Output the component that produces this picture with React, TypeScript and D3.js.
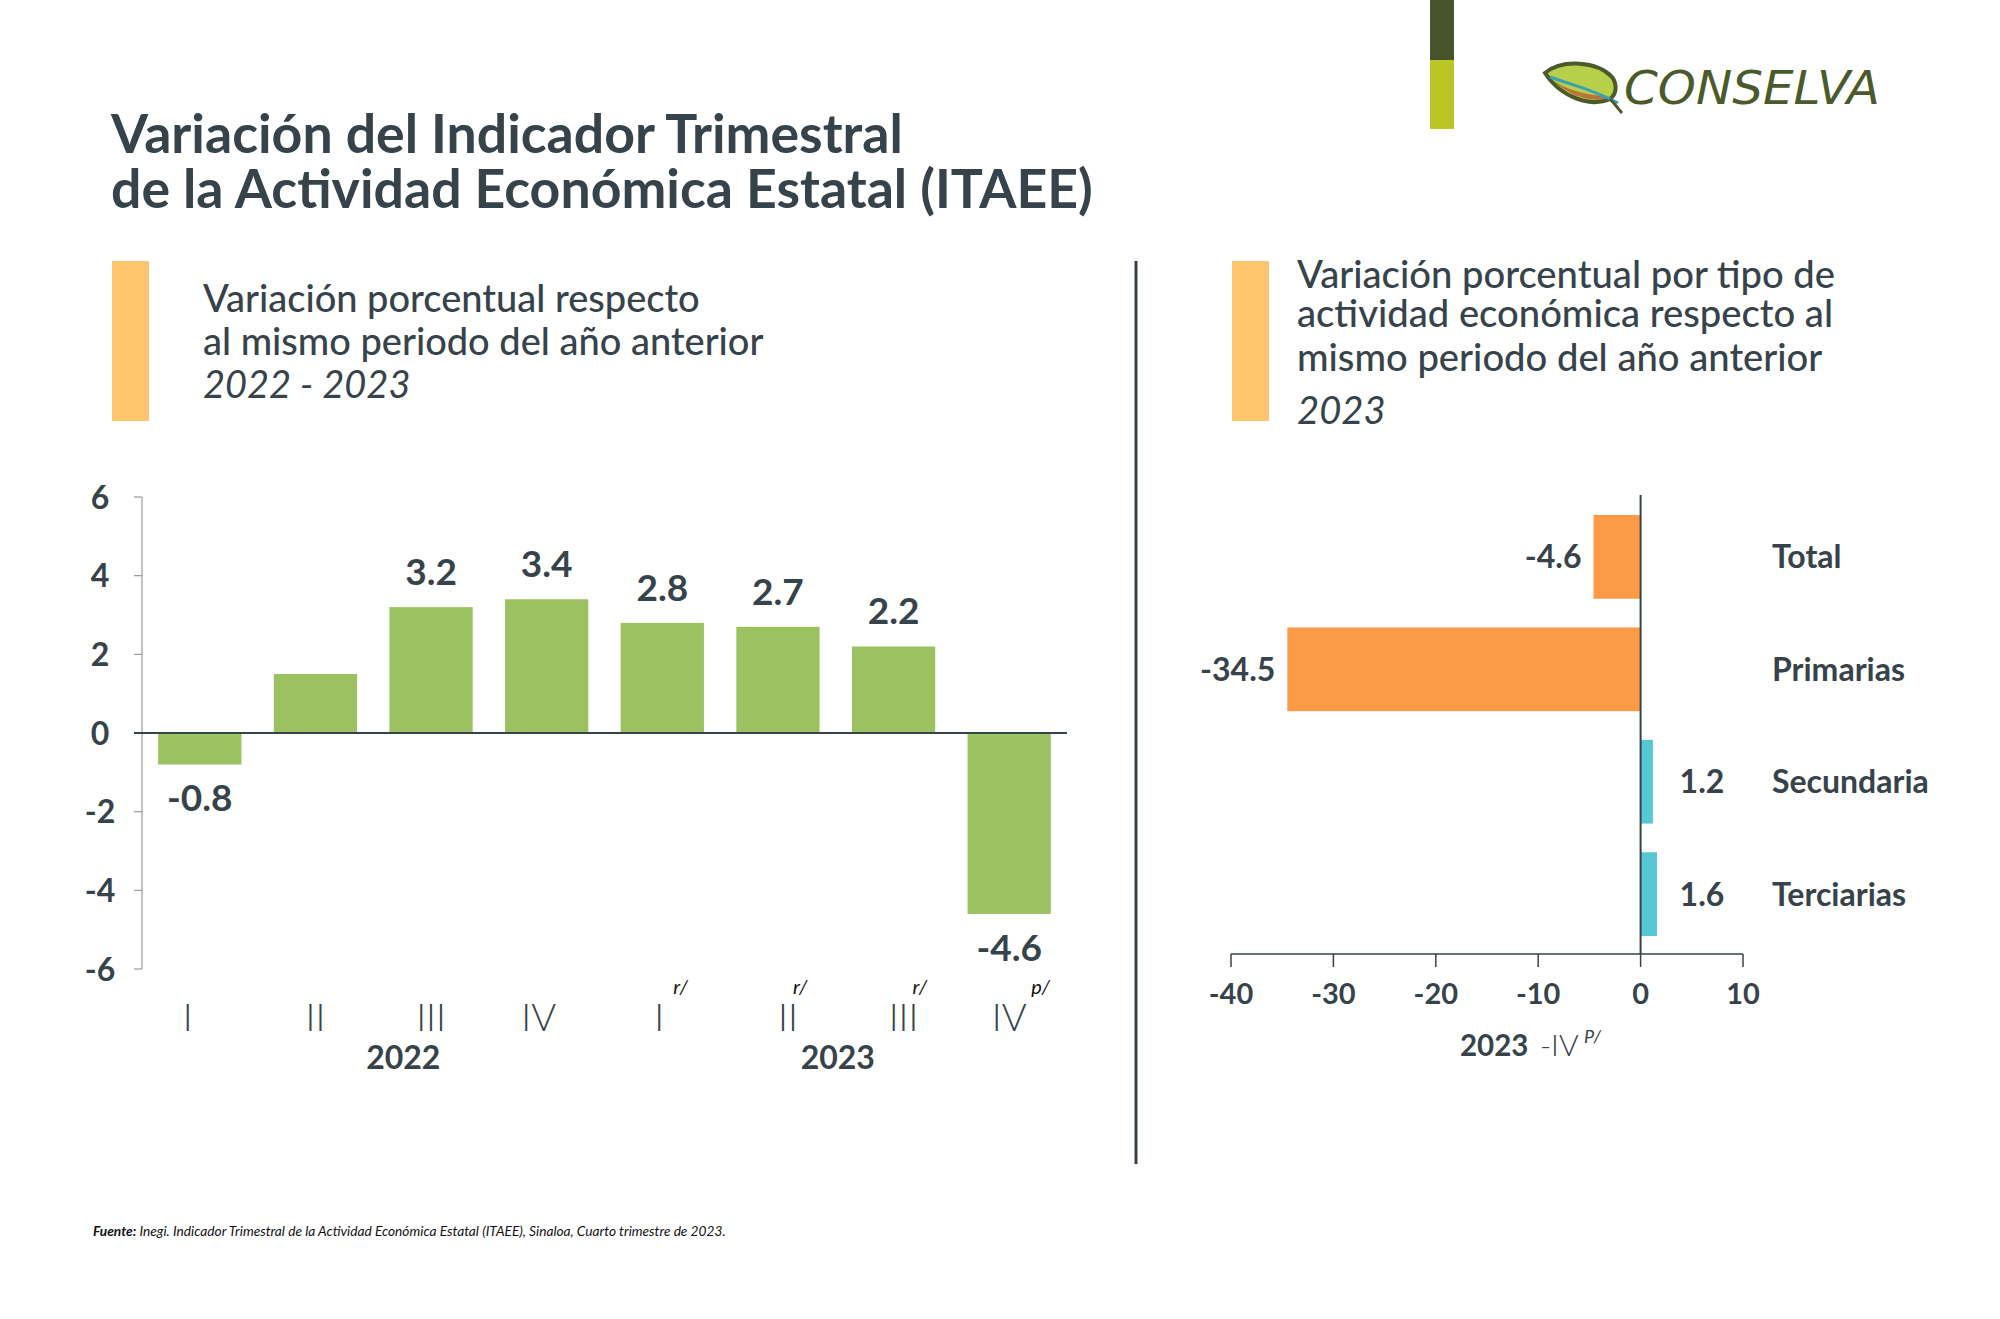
import React from "react";
import * as d3 from "d3";

const quarters = ["I", "II", "III", "IV", "I", "II", "III", "IV"];
const quarterKeys = ["2022-I", "2022-II", "2022-III", "2022-IV", "2023-I", "2023-II", "2023-III", "2023-IV"];
const quarterValues = [-0.8, 1.5, 3.2, 3.4, 2.8, 2.7, 2.2, -4.6];
const quarterLabels = ["-0.8", "", "3.2", "3.4", "2.8", "2.7", "2.2", "-4.6"];
const quarterNotes = ["", "", "", "", "r/", "r/", "r/", "p/"];
const years = ["2022", "2023"];
const leftTicks = [-6, -4, -2, 0, 2, 4, 6];

const sectors = ["Total", "Primarias", "Secundaria", "Terciarias"];
const sectorValues = [-4.6, -34.5, 1.2, 1.6];
const rightTicks = [-40, -30, -20, -10, 0, 10];

const DARK = "#37434b";
const FONT = "Lato, 'Open Sans', sans-serif";

export default function App() {
  // left chart scales
  const y = d3.scaleLinear().domain([-6, 6]).range([969, 497]);
  const x = d3.scaleBand<string>().domain(quarterKeys).range([142, 1067]).paddingInner(0.28).paddingOuter(0.14);
  const bw = x.bandwidth();

  // right chart scales
  const xr = d3.scaleLinear().domain([-40, 10]).range([1231, 1743]);
  const yr = d3.scaleBand<string>().domain(sectors).range([497, 954]).paddingInner(0.255).paddingOuter(0.16);
  const bh = yr.bandwidth();

  const noteDx: Record<string, number> = { I: 11, II: 15, III: 19, IV: 22 };
  const romanShift = [-12, 0, 0, -8, -3, 10, 10, 0];
  const yearX = [
    (x("2022-II")! + x("2022-III")! + bw) / 2 + 30,
    (x("2023-II")! + x("2023-III")! + bw) / 2 + 2,
  ];

  return (
    <svg width={2000} height={1319} style={{ position: "absolute", left: 0, top: 0, background: "#fff" }} fontFamily={FONT}>
      <rect x={0} y={0} width={2000} height={1319} fill="#ffffff" />
      {/* top right decoration */}
      <rect x={1430} y={0} width={24} height={60} fill="#46532b" />
      <rect x={1430} y={60} width={24} height={69} fill="#bcc526" />

      {/* logo */}
      <g transform="translate(1582,85)">
        <path d="M-37,-12 C-20,-26 15,-24 30,-8 C36,0 34,10 28,14 C10,22 -20,14 -37,-12 Z" fill="#b8cf4a" stroke="#4b5a2b" strokeWidth={4} />
        <path d="M-28,-4 C-10,8 10,10 28,12 C15,18 -10,14 -28,-4 Z" fill="#b8743a" />
        <path d="M-32,-8 C-10,0 10,4 36,18" fill="none" stroke="#3aa0b5" strokeWidth={3} />
        <path d="M28,14 C34,20 36,24 40,28" fill="none" stroke="#4b5a2b" strokeWidth={3} />
      </g>
      <text x={1624} y={104} fontSize={46} fontStyle="italic" fontWeight={400} fill="#4b5a2b" textLength={256} lengthAdjust="spacingAndGlyphs" fontFamily="'DejaVu Sans', sans-serif">CONSELVA</text>

      {/* title */}
      <text x={111} y={153} fontSize={53.6} fontWeight={700} fill={DARK}>Variación del Indicador Trimestral</text>
      <text x={111} y={208} fontSize={53.6} fontWeight={700} fill={DARK}>de la Actividad Económica Estatal (ITAEE)</text>

      {/* left header */}
      <rect x={112} y={261} width={37} height={160} fill="#fec66c" />
      <text x={203} y={312} fontSize={38} fontWeight={500} fill={DARK}>Variación porcentual respecto</text>
      <text x={203} y={355} fontSize={38} fontWeight={500} fill={DARK}>al mismo periodo del año anterior</text>
      <text x={203} y={398} fontSize={38} fontStyle="italic" fill={DARK}>2022 - 2023</text>

      {/* divider */}
      <line x1={1136} x2={1136} y1={261} y2={1164} stroke={DARK} strokeWidth={3} />

      {/* right header */}
      <rect x={1232} y={261} width={37} height={160} fill="#fec66c" />
      <text x={1297} y={288} fontSize={38.2} fontWeight={500} fill={DARK}>Variación porcentual por tipo de</text>
      <text x={1297} y={327} fontSize={38.2} fontWeight={500} fill={DARK}>actividad económica respecto al</text>
      <text x={1297} y={371} fontSize={38.2} fontWeight={500} fill={DARK}>mismo periodo del año anterior</text>
      <text x={1297} y={424} fontSize={38.2} fontStyle="italic" fill={DARK}>2023</text>

      {/* LEFT CHART */}
      <line x1={142} x2={142} y1={y(6)} y2={y(-6)} stroke="#9a9a9a" strokeWidth={1.2} />
      {leftTicks.map((t) => (
        <g key={t}>
          <line x1={134} x2={142} y1={y(t)} y2={y(t)} stroke="#9a9a9a" strokeWidth={1.2} />
          <text x={100} y={y(t)} dy="0.36em" textAnchor="middle" fontSize={32} fontWeight={700} fill={DARK}>{t}</text>
        </g>
      ))}
      {quarterKeys.map((k, i) => {
        const v = quarterValues[i];
        const x0 = x(k)!;
        const cx = x0 + bw / 2;
        return (
          <g key={k}>
            <rect x={x0} y={y(Math.max(0, v))} width={bw} height={Math.abs(y(v) - y(0))} fill="#9bc160" />
            {quarterLabels[i] && (
              <text x={cx} y={v >= 0 ? y(v) - 22 : y(v) + 47} textAnchor="middle" fontSize={37} fontWeight={700} fill={DARK}>{quarterLabels[i]}</text>
            )}
            <text x={cx + romanShift[i]} y={1031} textAnchor="middle" fontSize={38} fontWeight={300} fill={DARK}>{quarters[i]}</text>
            {quarterNotes[i] && (
              <text x={cx + noteDx[quarters[i]]} y={994} textAnchor="start" fontSize={20} fontStyle="italic" fill="#111">{quarterNotes[i]}</text>
            )}
          </g>
        );
      })}
      <line x1={134} x2={1067} y1={y(0)} y2={y(0)} stroke={DARK} strokeWidth={2} />
      <text x={yearX[0]} y={1069} textAnchor="middle" fontSize={32} fontWeight={700} fill={DARK}>{years[0]}</text>
      <text x={yearX[1]} y={1069} textAnchor="middle" fontSize={32} fontWeight={700} fill={DARK}>{years[1]}</text>

      {/* RIGHT CHART */}
      {sectors.map((s, i) => {
        const v = sectorValues[i];
        const y0 = yr(s)!;
        const cy = y0 + bh / 2;
        return (
          <g key={s}>
            <rect x={xr(Math.min(0, v))} y={y0} width={Math.abs(xr(v) - xr(0))} height={bh} fill={v < 0 ? "#fd9a48" : "#56c8d4"} />
            <text x={v < 0 ? xr(v) - 12 : xr(0) + 39} y={cy} dy="0.36em" textAnchor={v < 0 ? "end" : "start"} fontSize={32} fontWeight={700} fill={DARK}>{v.toFixed(1)}</text>
            <text x={1772} y={cy} dy="0.36em" fontSize={32} fontWeight={700} fill={DARK}>{s}</text>
          </g>
        );
      })}
      <line x1={xr(0)} x2={xr(0)} y1={495} y2={954} stroke={DARK} strokeWidth={2} />
      <line x1={xr(-40)} x2={xr(10)} y1={954} y2={954} stroke={DARK} strokeWidth={1.5} />
      {rightTicks.map((t) => (
        <g key={t}>
          <line x1={xr(t)} x2={xr(t)} y1={954} y2={967} stroke={DARK} strokeWidth={1.5} />
          <text x={xr(t)} y={1004} textAnchor="middle" fontSize={29} fontWeight={700} fill={DARK}>{t}</text>
        </g>
      ))}
      <text x={1460} y={1056} fontSize={29.5} fontWeight={700} fill={DARK}>2023</text>
      <text x={1540} y={1056} fontSize={30} fontWeight={300} fill={DARK}>-IV</text>
      <text x={1584} y={1043} fontSize={18} fontStyle="italic" fill={DARK}>P/</text>

      {/* footer */}
      <text x={93} y={1236} fontSize={13.7} fontStyle="italic" fill="#111">
        <tspan fontWeight={700}>Fuente:</tspan> Inegi. Indicador Trimestral de la Actividad Económica Estatal (ITAEE), Sinaloa, Cuarto trimestre de 2023.
      </text>
    </svg>
  );
}
